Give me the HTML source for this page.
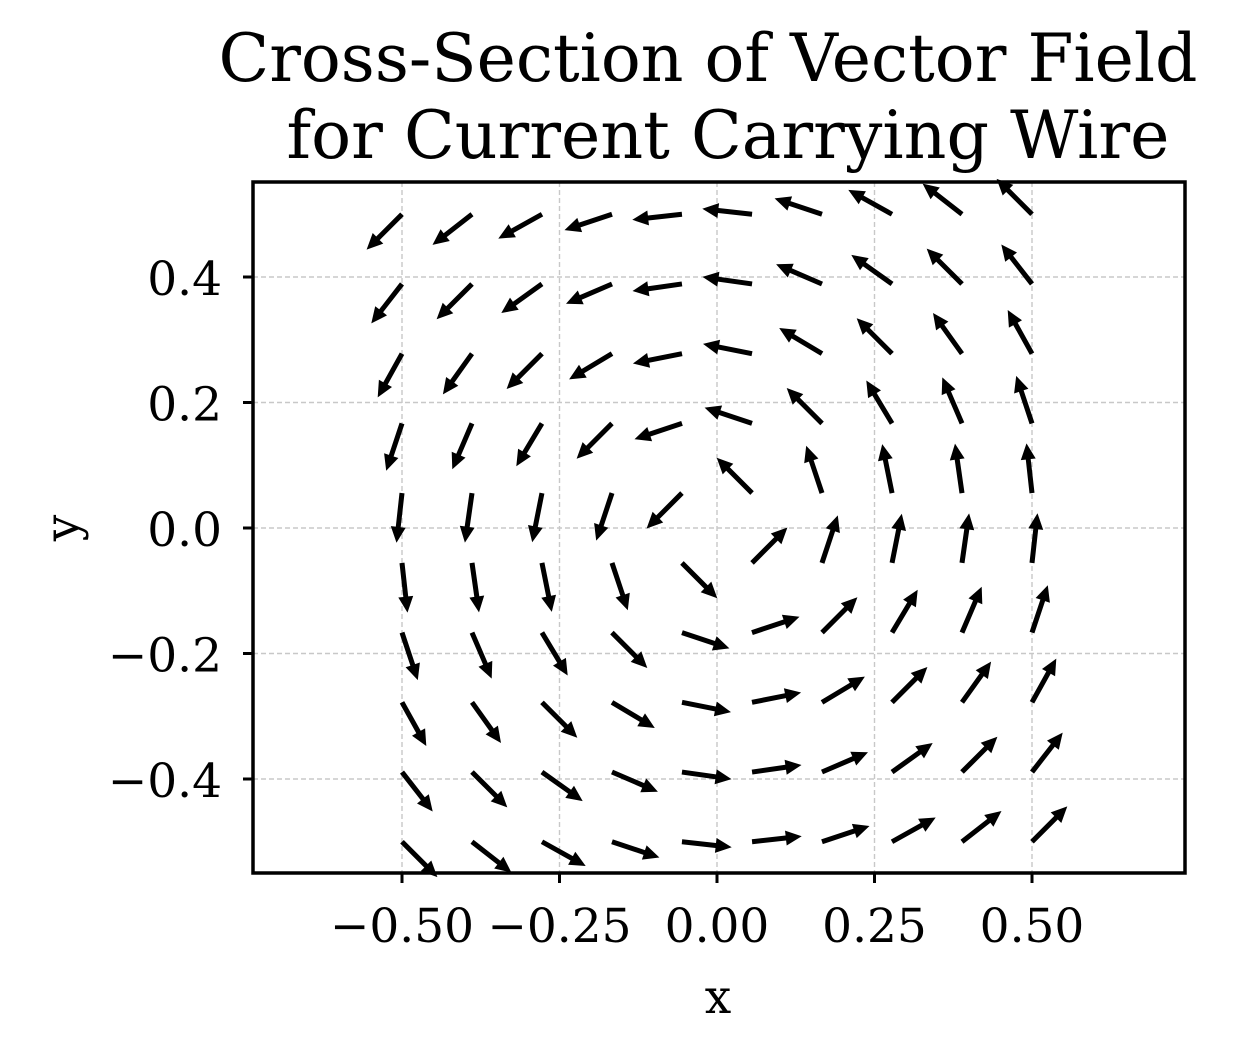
<!DOCTYPE html>
<html><head><meta charset="utf-8"><style>
body{margin:0;background:#fff}
svg text{font-family:"DejaVu Serif","Liberation Serif",serif;fill:#000}
</style></head><body>
<svg width="1250" height="1056" viewBox="0 0 1250 1056">
<text x="708" y="81" font-size="66" text-anchor="middle" textLength="979" lengthAdjust="spacingAndGlyphs">Cross-Section of Vector Field</text>
<text x="728" y="158" font-size="66" text-anchor="middle" textLength="883" lengthAdjust="spacingAndGlyphs">for Current Carrying Wire</text>
<g id="grid"></g>
<g id="arrows"></g>
<rect x="253" y="182" width="932" height="691" fill="none" stroke="#000" stroke-width="3.5"/>
<g id="ticks"></g>
<text x="718" y="1013" font-size="47" text-anchor="middle">x</text>
<text x="78" y="528" font-size="47" text-anchor="middle" transform="rotate(-90 78 528)">y</text>
</svg>
<script>
const xs=[-0.5,-0.3889,-0.2778,-0.1667,-0.0556,0.0556,0.1667,0.2778,0.3889,0.5];
const ys=[-0.5,-0.3889,-0.2778,-0.1667,-0.0556,0.0556,0.1667,0.2778,0.3889,0.5];
const U=[
[.707,.789,.874,.949,.994,.994,.949,.874,.789,.707],
[.614,.707,.814,.919,.990,.990,.919,.814,.707,.614],
[.486,.581,.707,.857,.981,.981,.857,.707,.581,.486],
[.316,.394,.514,.707,.949,.949,.707,.514,.394,.316],
[.110,.141,.196,.316,.707,.707,.316,.196,.141,.110],
[-.110,-.141,-.196,-.316,-.707,-.707,-.316,-.196,-.141,-.110],
[-.316,-.394,-.514,-.707,-.949,-.949,-.707,-.514,-.394,-.316],
[-.486,-.581,-.707,-.857,-.981,-.981,-.857,-.707,-.581,-.486],
[-.614,-.707,-.814,-.919,-.990,-.990,-.919,-.814,-.707,-.614],
[-.707,-.789,-.874,-.949,-.994,-.994,-.949,-.874,-.789,-.707]];
const V=[
[-.707,-.614,-.486,-.316,-.110,.110,.316,.486,.614,.707],
[-.789,-.707,-.581,-.394,-.141,.141,.394,.581,.707,.789],
[-.874,-.814,-.707,-.514,-.196,.196,.514,.707,.814,.874],
[-.949,-.919,-.857,-.707,-.316,.316,.707,.857,.919,.949],
[-.994,-.990,-.981,-.949,-.707,.707,.949,.981,.990,.994],
[-.994,-.990,-.981,-.949,-.707,.707,.949,.981,.990,.994],
[-.949,-.919,-.857,-.707,-.316,.316,.707,.857,.919,.949],
[-.874,-.814,-.707,-.514,-.196,.196,.514,.707,.814,.874],
[-.789,-.707,-.581,-.394,-.141,.141,.394,.581,.707,.789],
[-.707,-.614,-.486,-.316,-.110,.110,.316,.486,.614,.707]];
const xTicks=[-0.5,-0.25,0,0.25,0.5];
const xTickLabels=["\u22120.50","\u22120.25","0.00","0.25","0.50"];
const yTicks=[0.4,0.2,0,-0.2,-0.4];
const yTickLabels=["0.4","0.2","0.0","\u22120.2","\u22120.4"];

const NS="http://www.w3.org/2000/svg";
const sx=v=>717+v*630;
const sy=v=>528-v*627.5;
const L=50;
function mk(t,a,p){const e=document.createElementNS(NS,t);for(const k in a)e.setAttribute(k,a[k]);p.appendChild(e);return e;}
const grid=document.getElementById('grid'),ticks=document.getElementById('ticks'),arrows=document.getElementById('arrows');
xTicks.forEach((t,i)=>{
 const X=sx(t);
 const g=mk('line',{x1:X,x2:X,y1:182,y2:873,stroke:'#c8c8c8','stroke-width':1.4,'stroke-dasharray':'5,3'},grid);
 
 
 const tk=mk('line',{x1:X,x2:X,y1:873,y2:883,stroke:'#000','stroke-width':3},ticks);
 
 
 const tx=mk('text',{x:X,y:942,'font-size':47,'text-anchor':'middle'},ticks);
 tx.textContent=xTickLabels[i];
 
 
});
yTicks.forEach((t,i)=>{
 const Y=sy(t);
 const g=mk('line',{x1:253,x2:1185,y1:Y,y2:Y,stroke:'#c8c8c8','stroke-width':1.4,'stroke-dasharray':'5,3'},grid);
 
 
 const tk=mk('line',{x1:243,x2:253,y1:Y,y2:Y,stroke:'#000','stroke-width':3},ticks);
 
 
 const tx=mk('text',{x:222,y:Y+18,'font-size':47,'text-anchor':'end'},ticks);
 tx.textContent=yTickLabels[i];
 
 
});
ys.forEach((yv,j)=>{xs.forEach((xv,i)=>{
 const X=sx(xv),Y=sy(yv),u=U[j][i],v=V[j][i];
 const m=Math.hypot(u,v)||1;
 const dx=u/m,dy=-v/m,nx=-dy,ny=dx;
 const len=L*m,hl=16,sw=2.5,hw=7.5;
 const b=len-hl;
 const pts=[[0,-sw],[b,-sw],[b,-hw],[len,0],[b,hw],[b,sw],[0,sw]].map(([a,c])=>(X+dx*a+nx*c).toFixed(1)+','+(Y+dy*a+ny*c).toFixed(1)).join(' ');
 const p=mk('polygon',{points:pts,fill:'#000'},arrows);
 
 
});});
</script>
</body></html>
